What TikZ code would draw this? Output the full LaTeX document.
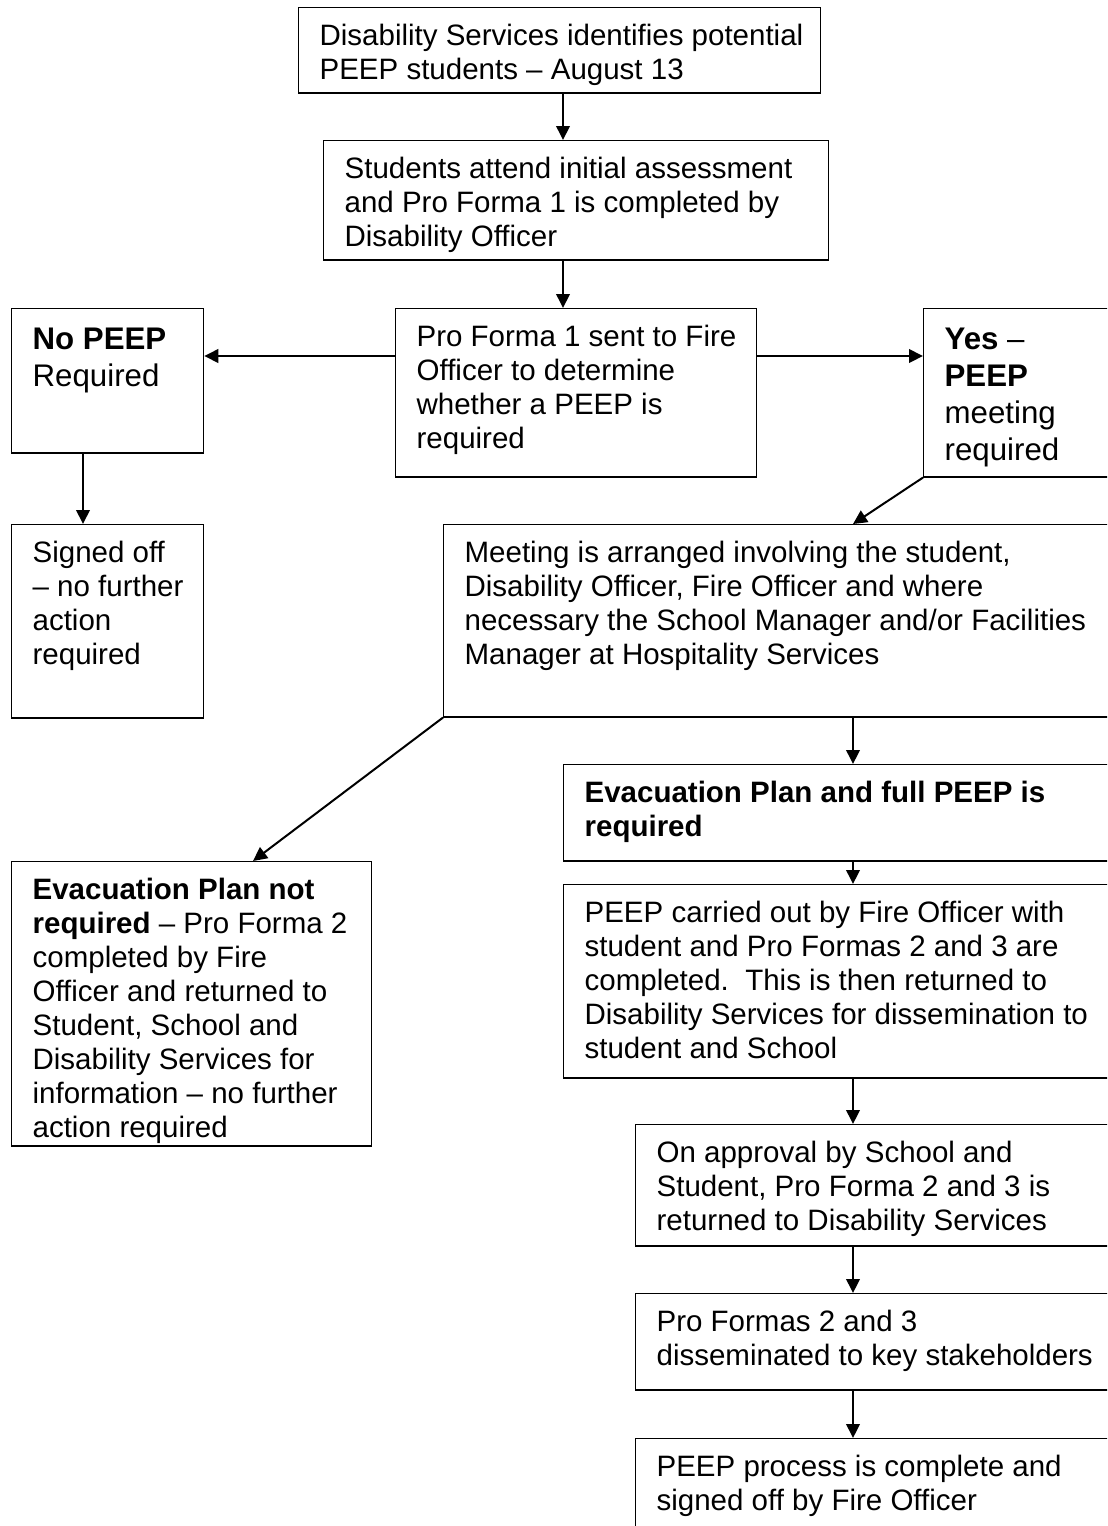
\documentclass[tikz,border=0pt]{standalone}
\usepackage{fontspec}
\setmainfont{Liberation Sans}
\usetikzlibrary{arrows.meta}
\newdimen\unitpx \unitpx=0.4pt
% box text: width, height (in px), lines set from the top
\newcommand{\boxtxt}[3]{\parbox[t][\dimexpr#2\unitpx-11.48pt\relax][t]{\dimexpr#1\unitpx-16.8pt\relax}{\begin{tabular}[t]{@{}l@{}}#3\end{tabular}}}
\tikzset{
  stepbox/.style={draw, line width=0.5pt, anchor=north west, inner xsep=8.4pt, inner ysep=5.8pt, font=\fontsize{11.8}{13.6}\selectfont},
  bigbox/.style={stepbox, font=\fontsize{12.5}{14.8}\selectfont},
  flow/.style={line width=0.8pt, -{Triangle[length=5.6pt,width=5.4pt]}}
}
\begin{document}
\begin{tikzpicture}[x=0.4pt, y=-0.4pt]
 \useasboundingbox (0,0) rectangle (1107,1526);
 \clip (0,0) rectangle (1107,1526);
 % columns and rows the arrows run on
 \coordinate (xa) at (563,0);
 \coordinate (xb) at (83,0);
 \coordinate (xc) at (853,0);
 \coordinate (xd) at (253,0);
 \coordinate (ya) at (0,356);
 % top of the chart
 \node [stepbox] (ident) at (298,7) {\boxtxt{522}{85}{Disability Services identifies potential\\PEEP students – August 13}};
 \node [stepbox] (assess) at (323,140) {\boxtxt{505}{119}{Students attend initial assessment\\and Pro Forma 1 is completed by\\Disability Officer}};
 \node [stepbox] (sent) at (395,308) {\boxtxt{361}{168}{Pro Forma 1 sent to Fire\\Officer to determine\\whether a PEEP is\\required}};
 \node [bigbox] (nopeep) at (11,308) {\boxtxt{192}{144}{\textbf{No PEEP}\\Required}};
 \node [bigbox] (yes) at (923,308) {\boxtxt{220}{168}{\textbf{Yes} –\\\textbf{PEEP}\\meeting\\required}};
 \node [stepbox] (signed) at (11,524) {\boxtxt{192}{193}{Signed off\\– no further\\action\\required}};
 \node [stepbox] (meet) at (443,524) {\boxtxt{700}{192}{Meeting is arranged involving the student,\\Disability Officer, Fire Officer and where\\necessary the School Manager and/or Facilities\\Manager at Hospitality Services}};
 % left branch
 \node [stepbox] (evacno) at (11,861) {\boxtxt{360}{284}{\textbf{Evacuation Plan not}\\\textbf{required} – Pro Forma 2\\completed by Fire\\Officer and returned to\\Student, School and\\Disability Services for\\information – no further\\action required}};
 % right branch
 \node [stepbox] (evacfull) at (563,764) {\boxtxt{580}{96}{\textbf{Evacuation Plan and full PEEP is}\\\textbf{required}}};
 \node [stepbox] (carried) at (563,884) {\boxtxt{580}{193}{PEEP carried out by Fire Officer with\\student and Pro Formas 2 and 3 are\\completed.\ \ This is then returned to\\Disability Services for dissemination to\\student and School}};
 \node [stepbox] (approval) at (635,1124) {\boxtxt{500}{121}{On approval by School and\\Student, Pro Forma 2 and 3 is\\returned to Disability Services}};
 \node [stepbox] (dissem) at (635,1293) {\boxtxt{500}{96}{Pro Formas 2 and 3\\disseminated to key stakeholders}};
 \node [stepbox] (complete) at (635,1438) {\boxtxt{500}{150}{PEEP process is complete and\\signed off by Fire Officer}};
 % arrows
 \draw [flow] (ident.south -| xa) -- (assess.north -| xa);
 \draw [flow] (assess.south -| xa) -- (sent.north -| xa);
 \draw [flow] (sent.west |- ya) -- (nopeep.east |- ya);
 \draw [flow] (sent.east |- ya) -- (yes.west |- ya);
 \draw [flow] (nopeep.south -| xb) -- (signed.north -| xb);
 \draw [flow] (yes.south west) -- (meet.north -| xc);
 \draw [flow] (meet.south west) -- (evacno.north -| xd);
 \draw [flow] (meet.south -| xc) -- (evacfull.north -| xc);
 \draw [flow] (evacfull.south -| xc) -- (carried.north -| xc);
 \draw [flow] (carried.south -| xc) -- (approval.north -| xc);
 \draw [flow] (approval.south -| xc) -- (dissem.north -| xc);
 \draw [flow] (dissem.south -| xc) -- (complete.north -| xc);
\end{tikzpicture}
\end{document}
